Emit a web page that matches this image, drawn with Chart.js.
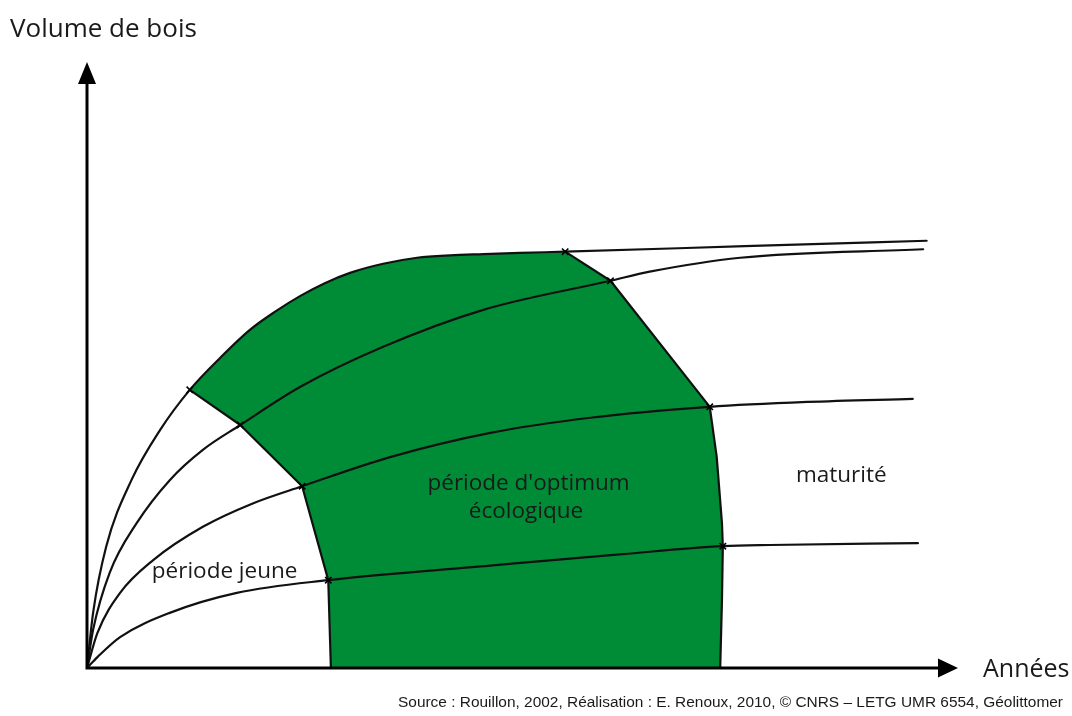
<!DOCTYPE html>
<html lang="fr">
<head>
<meta charset="utf-8">
<title>Volume de bois</title>
<script src="https://cdn.jsdelivr.net/npm/chart.js@4.4.1/dist/chart.umd.min.js"></script>
<style>
  html, body { margin: 0; padding: 0; background: #fff; }
  canvas { display: block; }
</style>
</head>
<body>
<canvas id="schemaChart" width="1072" height="716"></canvas>
<script>
// ====================================
// SCHEMA - VOLUME DE BOIS / ANNEES
// ====================================

// Growth curves, [années, volume] (0-100 on both axes), from the most to the least productive
const curveA = [[0, 0], [0.7, 9.1], [2.2, 20.0], [5.1, 31.0], [8.4, 39.3], [11.8, 45.9],
  [15.3, 51.2], [18.7, 55.8], [21.6, 58.8], [24.5, 61.4], [27.3, 63.5], [30.2, 65.2], [34.0, 66.7],
  [37.9, 67.7], [41.7, 68.1], [45.5, 68.3], [49.7, 68.5], [54.9, 68.7], [75.5, 69.6], [96.4, 70.5]];
const curveB = [[0, 0], [0.7, 6.3], [2.6, 15.7], [5.7, 23.9], [9.5, 31.0], [13.3, 36.0], [17.6, 40.1],
  [24.5, 46.4], [34.0, 53.0], [45.5, 59.1], [60.1, 63.9], [64.6, 65.4], [75.0, 67.7], [96.0, 69.1]];
const curveC = [[0, 0], [1.2, 5.8], [3.8, 12.4], [7.6, 17.8], [13.3, 23.3], [19.1, 27.2], [24.7, 30.0],
  [34.8, 34.8], [46.3, 38.8], [57.8, 41.3], [71.5, 43.1], [82.7, 43.9], [94.8, 44.4]];
const curveD = [[0, 0], [1.2, 1.8], [3.8, 5.1], [9.5, 9.1], [17.2, 12.4], [27.7, 14.5], [46.3, 16.9],
  [61.5, 18.8], [73.0, 20.1], [78.4, 20.3], [95.4, 20.6]];

// Edges of the optimum zone, top to bottom (crossing points sit on the curves)
const leftEdge = [[11.8, 45.9], [17.6, 40.1], [24.7, 30.0], [27.7, 14.5], [28.0, 0]];
const rightEdge = [[54.9, 68.7], [60.1, 63.9], [71.5, 43.1], [72.3, 34.8], [72.9, 23.9], [73.0, 20.1],
  [72.9, 11.2], [72.7, 0]];
const leftCrossings = [0, 1, 2, 3];
const rightCrossings = [0, 1, 2, 5];

// Texts
const axisTitles = ['Volume de bois', 'Années'];
const zoneLabels = ['période d\'optimum', 'écologique', 'période jeune', 'maturité'];
const sourceText = 'Source : Rouillon, 2002, Réalisation : E. Renoux, 2010, © CNRS – LETG UMR 6554, Géolittomer';

const toPoints = (pts) => pts.map(([x, y]) => ({ x, y }));

/**
 * Axes with arrowheads, axis titles, zone labels and source line
 */
const schemaDecor = {
  id: 'schemaDecor',
  afterDatasetsDraw(chart, args, opts) {
    const { ctx, chartArea: area, scales: { x, y } } = chart;
    const ox = x.getPixelForValue(0);
    const oy = y.getPixelForValue(0);

    ctx.save();
    ctx.strokeStyle = '#000';
    ctx.fillStyle = '#000';
    ctx.lineWidth = 3;

    ctx.beginPath();
    ctx.moveTo(ox, oy + 1.5);
    ctx.lineTo(ox, area.top + 20);
    ctx.moveTo(ox - 1.5, oy);
    ctx.lineTo(area.right - 18, oy);
    ctx.stroke();

    // arrowheads
    ctx.beginPath();
    ctx.moveTo(ox, area.top);
    ctx.lineTo(ox + 9, area.top + 22);
    ctx.lineTo(ox - 9, area.top + 22);
    ctx.closePath();
    ctx.moveTo(area.right, oy);
    ctx.lineTo(area.right - 20, oy - 9.5);
    ctx.lineTo(area.right - 20, oy + 9.5);
    ctx.closePath();
    ctx.fill();

    // axis titles
    ctx.fillStyle = '#1a1a1a';
    ctx.textBaseline = 'alphabetic';
    ctx.font = '26px "Open Sans"';
    ctx.textAlign = 'left';
    ctx.fillText(axisTitles[0], 10, 37);
    ctx.font = '25px "Open Sans"';
    ctx.fillText(axisTitles[1], 983, 677);

    // zone labels, anchored in data units
    ctx.font = '22.5px "Open Sans"';
    ctx.textAlign = 'center';
    opts.zoneAnchors.forEach(([vx, vy], i) => {
      ctx.fillText(zoneLabels[i], x.getPixelForValue(vx), y.getPixelForValue(vy));
    });

    // source, stretched to its line width
    ctx.font = '14px "Liberation Sans"';
    ctx.textAlign = 'right';
    const w = ctx.measureText(sourceText).width;
    ctx.translate(1063, 707);
    ctx.scale(opts.sourceWidth / w, 1);
    ctx.fillText(sourceText, 0, 0);
    ctx.restore();
  }
};

const Schema = {
  chart: null,

  init() {
    const ctx = document.getElementById('schemaChart')?.getContext('2d');
    if (!ctx) return;

    this.chart = new Chart(ctx, {
      type: 'line',
      data: { datasets: this.buildDatasets() },
      options: {
        responsive: false,
        animation: false,
        events: [],
        layout: {
          padding: { left: 87, right: 114, top: 62, bottom: 48 }
        },
        scales: {
          x: { type: 'linear', min: 0, max: 100, display: false },
          y: { type: 'linear', min: 0, max: 100, display: false }
        },
        plugins: {
          legend: { display: false },
          tooltip: { enabled: false },
          schemaDecor: {
            zoneAnchors: [[50.7, 29.4], [50.4, 24.7], [15.8, 14.9], [86.6, 30.7]],
            sourceWidth: 665
          }
        }
      },
      plugins: [schemaDecor]
    });
  },

  /**
   * Green zone polygon, edges, growth curves and crossing marks
   */
  buildDatasets() {
    const [topLeft, topRight] = [leftEdge[0], rightEdge[0]];
    const zoneTop = curveA.filter(([x]) => x >= topLeft[0] && x <= topRight[0]);
    const zone = [...zoneTop, ...rightEdge.slice(1), ...leftEdge.slice().reverse()];

    const lineStyle = {
      borderColor: '#111',
      borderWidth: 2.2,
      pointRadius: 0,
      fill: false,
      borderCapStyle: 'round',
      borderJoinStyle: 'round'
    };

    const crossings = [
      ...leftCrossings.map(i => leftEdge[i]),
      ...rightCrossings.map(i => rightEdge[i])
    ];

    return [
      {
        label: 'période d\'optimum écologique',
        data: toPoints(zone),
        fill: 'shape',
        backgroundColor: '#008c37',
        borderWidth: 0,
        pointRadius: 0,
        tension: 0,
        order: 10
      },
      { ...lineStyle, label: 'limite jeune', data: toPoints(leftEdge), tension: 0, order: 3 },
      { ...lineStyle, label: 'limite maturité', data: toPoints(rightEdge), tension: 0, order: 3 },
      ...[curveA, curveB, curveC, curveD].map((c, i) => ({
        ...lineStyle,
        label: 'courbe ' + (i + 1),
        data: toPoints(c),
        cubicInterpolationMode: 'monotone',
        order: 2
      })),
      {
        label: 'passages',
        data: toPoints(crossings),
        showLine: false,
        pointStyle: 'crossRot',
        pointRadius: 4.5,
        borderColor: '#000',
        borderWidth: 1.6,
        order: 1
      }
    ];
  }
};

if (document.readyState === 'loading') {
  document.addEventListener('DOMContentLoaded', () => Schema.init());
} else {
  Schema.init();
}
</script>
</body>
</html>
